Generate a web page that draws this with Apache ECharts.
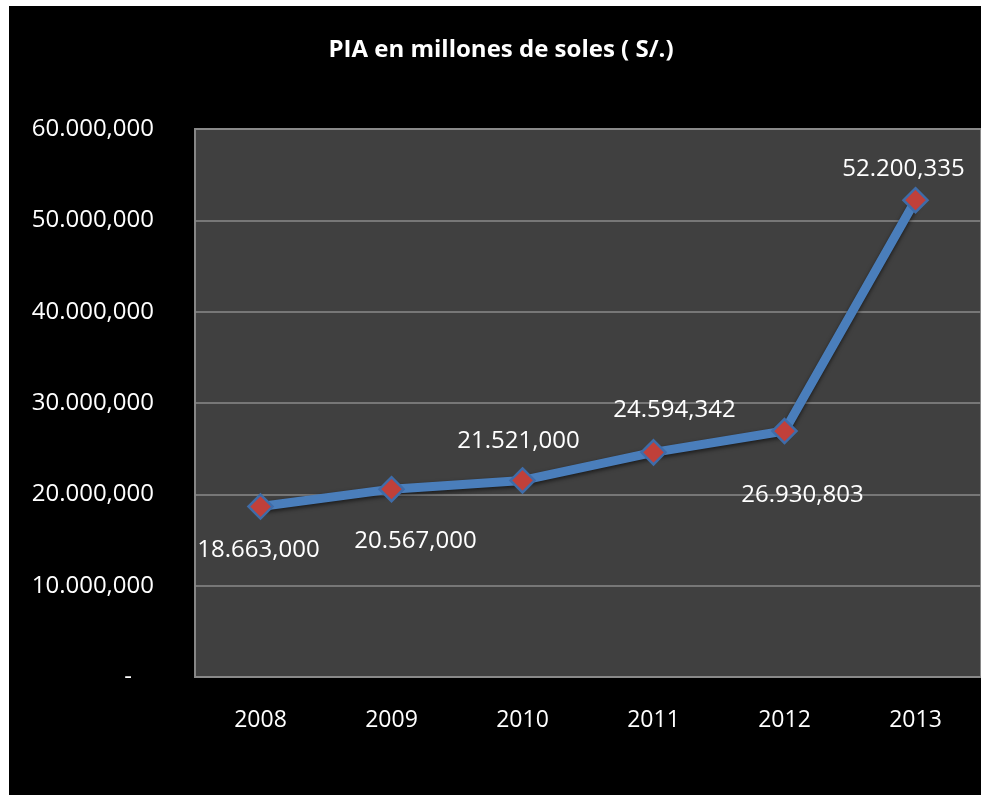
<!DOCTYPE html>
<html>
<head>
<meta charset="utf-8">
<script src="https://cdn.jsdelivr.net/npm/echarts@6/dist/echarts.min.js"></script>
<style>
  html, body { margin: 0; padding: 0; background: #ffffff; }
  #frame { position: absolute; left: 9px; top: 6px; width: 972px; height: 789px; background: #000000; }
  #chart { width: 972px; height: 789px; }
</style>
</head>
<body>
<div id="frame"><div id="chart"></div></div>
<script>
// Presupuesto Institucional de Apertura por año
const years = ['2008', '2009', '2010', '2011', '2012', '2013'];
const pia = [18663000, 20567000, 21521000, 24594342, 26930803, 52200335];
const yTicks = [0, 10000000, 20000000, 30000000, 40000000, 50000000, 60000000];

// where each value label sits relative to its point
const labelOffsets = [[-2, 44], [24, 52], [-4, -39], [21, -42], [18, 64], [-12, -31]];

// 52200335 -> "52.200,335" (millions separator '.', thousands ',')
function fmt(v) {
  if (v === 0) return '-';
  const s = String(Math.round(v));
  const parts = [];
  for (let i = s.length; i > 0; i -= 3) parts.unshift(s.slice(Math.max(0, i - 3), i));
  if (parts.length === 3) return parts[0] + '.' + parts[1] + ',' + parts[2];
  return parts.join(',');
}

const FONT = '"Open Sans", "Noto Sans", sans-serif';
const chart = echarts.init(document.getElementById('chart'));

chart.setOption({
  backgroundColor: '#000000',
  animation: false,
  title: {
    text: 'PIA en millones de soles ( S/.)',
    left: 487, top: 27, textAlign: 'center',
    textStyle: { color: '#ffffff', fontFamily: FONT, fontSize: 24, fontWeight: 'bold' }
  },
  grid: {
    left: 186, top: 123, right: -6, bottom: 118,
    show: true, backgroundColor: '#404040', borderColor: '#868686', borderWidth: 2
  },
  xAxis: {
    type: 'category',
    data: years,
    boundaryGap: true,
    axisLine: { show: false },
    axisTick: { show: false },
    axisLabel: { color: '#ffffff', fontFamily: FONT, fontSize: 23, margin: 32 }
  },
  yAxis: {
    type: 'value',
    min: yTicks[0], max: yTicks[yTicks.length - 1], interval: 10000000,
    axisLine: { show: false },
    axisTick: { show: false },
    splitLine: { lineStyle: { color: '#8a8a8a', width: 1.5 } },
    axisLabel: {
      color: '#ffffff', fontFamily: FONT, fontSize: 24, margin: 41,
      formatter: v => v === 0 ? '{dash|-}' : fmt(v),
      rich: { dash: { color: '#ffffff', fontSize: 24, fontFamily: FONT, padding: [0, 22, 0, 0] } }
    }
  },
  series: [{
    type: 'line',
    data: pia.map((v, i) => ({
      value: v,
      label: { offset: labelOffsets[i] }
    })),
    lineStyle: { color: '#4a7ebb', width: 9, shadowColor: 'rgba(0,0,0,0.6)', shadowBlur: 4, shadowOffsetY: 2 },
    symbol: 'diamond',
    symbolSize: 24,
    itemStyle: { color: '#c0403a', borderColor: '#3f6ca8', borderWidth: 2.5 },
    label: {
      show: true, position: 'inside',
      color: '#ffffff', fontFamily: FONT, fontSize: 24,
      formatter: p => fmt(p.value)
    },
    z: 3
  }]
});
</script>
</body>
</html>
